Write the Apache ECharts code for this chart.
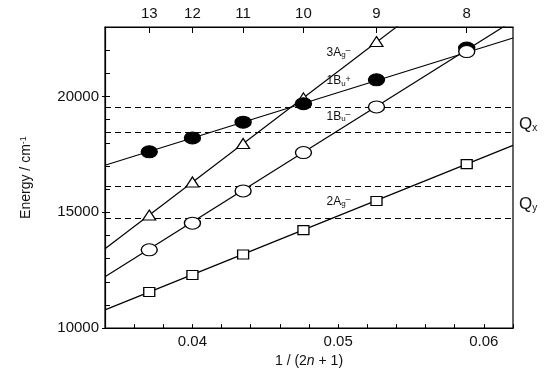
<!DOCTYPE html>
<html>
<head>
<meta charset="utf-8">
<script src="https://cdn.jsdelivr.net/npm/echarts@6/dist/echarts.min.js"></script>
<style>
html,body{margin:0;padding:0;background:#fff;}
#c{width:550px;height:373px;}
</style>
</head>
<body>
<div id="c"></div>
<script>
// ---- data ----
var nValues = [13, 12, 11, 10, 9, 8];               // top axis: n
var bu1Plus  = [17610, 18210, 18890, 19690, 20720, 22090]; // 1Bu+ (filled circles), n=13..8
var ag3Minus = [14880, 16310, 17970, 19940, 22370];        // 3Ag- (triangles), n=13..9
var bu1Minus = [13380, 14530, 15920, 17580, 19550, 21940]; // 1Bu- (open circles), n=13..8
var ag2Minus = [11560, 12290, 13180, 14230, 15490, 17080]; // 2Ag- (squares), n=13..8
var fitX        = [0.034, 0.062];
var fitBu1Plus  = [17029, 22523];
var fitAg3Minus = [13423, 26831];
var fitBu1Minus = [12222, 23268];
var fitAg2Minus = [10785, 17887];
var qLevels = [19550, 18450, 16140, 14730]; // dashed Qx / Qy levels
var yTickLabels = [10000, 15000, 20000];
var xTickLabels = [0.04, 0.05, 0.06];

// ---- build ----
var xOfN = nValues.map(function (n) { return 1 / (2 * n + 1); });
function pts(vals) { return vals.map(function (v, i) { return [xOfN[i], v]; }); }
function fit(vals) { return vals.map(function (v, i) { return [fitX[i], v]; }); }

var FONT = 'Liberation Sans, Arial, sans-serif';
var chart = echarts.init(document.getElementById('c'), null, { renderer: 'canvas' });

function lineSeries(vals) {
  return { type: 'line', data: fit(vals), symbol: 'none', silent: true, z: 2,
    lineStyle: { color: '#000', width: 1.2 }, animation: false };
}
function markSeries(vals, symbol, size, fill, z) {
  return { type: 'scatter', data: pts(vals), symbol: symbol, symbolSize: size, z: z,
    itemStyle: { color: fill, borderColor: '#000', borderWidth: 1.2, opacity: 1 },
    animation: false };
}

var dashSeries = {
  type: 'line', data: [], silent: true, animation: false,
  markLine: {
    symbol: ['none', 'none'], silent: true, animation: false,
    label: { show: false },
    lineStyle: { color: '#000', width: 1, type: [6, 4] },
    data: qLevels.map(function (v) { return { yAxis: v }; })
  }
};

var option = {
  animation: false,
  grid: { left: 105, right: 37, top: 27, bottom: 39, show: true, borderColor: '#000', borderWidth: 1.2 },
  xAxis: [
    { type: 'value', position: 'bottom', min: 0.034, max: 0.062, interval: 0.002,
      axisLine: { show: true, onZero: false, lineStyle: { color: '#000', width: 1.2 } },
      axisTick: { show: true, inside: true, length: 4, lineStyle: { color: '#000' } },
      splitLine: { show: false },
      axisLabel: { color: '#111', fontSize: 15, fontFamily: FONT, margin: 6,
        formatter: function (v) {
          for (var i = 0; i < xTickLabels.length; i++) {
            if (Math.abs(v - xTickLabels[i]) < 1e-7) return xTickLabels[i].toFixed(2);
          }
          return '';
        } },
      name: '1 / (2{i|n} + 1)', nameLocation: 'middle', nameGap: 22,
      nameTextStyle: { color: '#111', fontSize: 14, fontFamily: FONT,
        rich: { i: { fontStyle: 'italic', fontSize: 14, fontFamily: FONT, color: '#111' } } }
    },
    { type: 'value', position: 'top', min: 0.034, max: 0.062,
      axisLine: { show: true, onZero: false, lineStyle: { color: '#000', width: 1.2 } },
      axisTick: { show: true, inside: true, length: 6, customValues: xOfN, lineStyle: { color: '#000' } },
      splitLine: { show: false },
      axisLabel: { color: '#111', fontSize: 15, fontFamily: FONT, margin: 6, customValues: xOfN,
        formatter: function (v) { return String(Math.round((1 / v - 1) / 2)); } }
    }
  ],
  yAxis: [
    { type: 'value', position: 'left', min: 10000, max: 23000, interval: 1000,
      axisLine: { show: true, onZero: false, lineStyle: { color: '#000', width: 1.2 } },
      axisTick: { show: true, inside: true, length: 5, lineStyle: { color: '#000' } },
      axisLabel: { show: false }, splitLine: { show: false },
      name: 'Energy / cm{s|-1}', nameLocation: 'middle', nameGap: 72, nameRotate: 90,
      nameTextStyle: { color: '#111', fontSize: 14, fontFamily: FONT,
        rich: { s: { fontSize: 9, fontFamily: FONT, color: '#111', verticalAlign: 'top', lineHeight: 8 } } }
    },
    { type: 'value', position: 'left', min: 10000, max: 23000,
      axisLine: { show: false },
      axisTick: { show: true, inside: false, length: 3, customValues: yTickLabels, lineStyle: { color: '#000' } },
      axisLabel: { color: '#111', fontSize: 15, fontFamily: FONT, margin: 6, customValues: yTickLabels,
        formatter: function (v) { return String(v); } },
      splitLine: { show: false }
    }
  ],
  series: [
    lineSeries(fitBu1Plus), lineSeries(fitAg3Minus), lineSeries(fitBu1Minus), lineSeries(fitAg2Minus),
    dashSeries,
    markSeries(ag3Minus, 'triangle', [13, 10], '#fff', 5),
    markSeries(ag2Minus, 'rect', [11, 9], '#fff', 5),
    markSeries(bu1Plus, 'circle', [16, 12], '#000', 6),
    markSeries(bu1Minus, 'circle', [16, 12], '#fff', 7)
  ]
};
chart.setOption(option);

// ---- annotations (anchored in data coordinates) ----
var stateLabels = [
  { t: '{m|3A}{b|g}{p|\u2013}', at: [0.0492, 21889] },
  { t: '{m|1B}{b|u}{p|+}',      at: [0.0492, 20664] },
  { t: '{m|1B}{b|u}{p|\u2013}', at: [0.0492, 19142] },
  { t: '{m|2A}{b|g}{p|\u2013}', at: [0.0492, 15464] }
];
var richState = {
  m: { fontSize: 12, fontFamily: FONT, fill: '#111', lineHeight: 13, verticalAlign: 'middle' },
  b: { fontSize: 8, fontFamily: FONT, fill: '#111', lineHeight: 8, verticalAlign: 'bottom' },
  p: { fontSize: 9, fontFamily: FONT, fill: '#111', lineHeight: 9, verticalAlign: 'top' }
};
var graphics = stateLabels.map(function (s) {
  var p = chart.convertToPixel({ seriesIndex: 0 }, s.at);
  return { type: 'text', x: p[0], y: p[1], z: 20,
    style: { text: s.t, rich: richState, align: 'left', verticalAlign: 'middle' } };
});
var qLabels = [
  { t: '{q|Q}{s|x}', at: [0.062, 18800] },
  { t: '{q|Q}{s|y}', at: [0.062, 15350] }
];
var richQ = {
  q: { fontSize: 17, fontFamily: FONT, fill: '#111', lineHeight: 18, verticalAlign: 'middle' },
  s: { fontSize: 10, fontFamily: FONT, fill: '#111', lineHeight: 10, verticalAlign: 'bottom' }
};
qLabels.forEach(function (s) {
  var p = chart.convertToPixel({ seriesIndex: 0 }, s.at);
  graphics.push({ type: 'text', x: p[0] + 6, y: p[1], z: 20,
    style: { text: s.t, rich: richQ, align: 'left', verticalAlign: 'middle' } });
});
chart.setOption({ graphic: graphics });
</script>
</body>
</html>
